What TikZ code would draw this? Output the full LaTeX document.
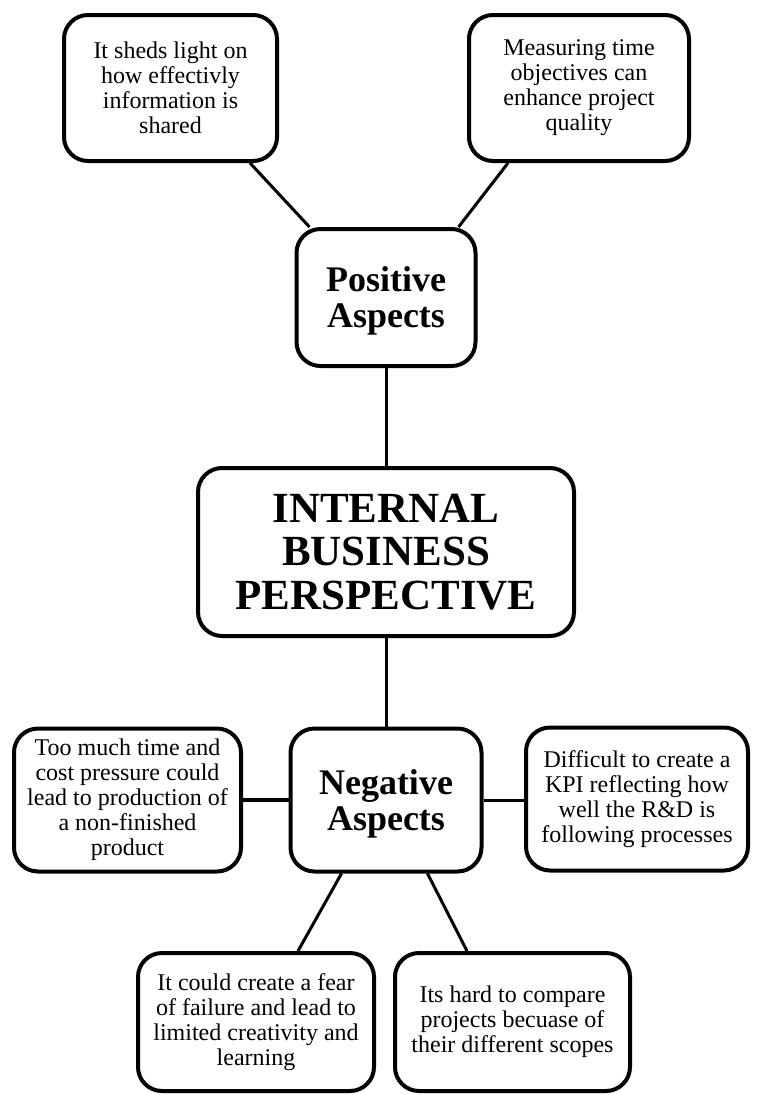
\documentclass[tikz,border=0pt]{standalone}
\usepackage{fontspec}
\setmainfont{Liberation Serif}
\begin{document}
\begin{tikzpicture}[x=1pt,y=-1pt,
  box/.style={draw=black,line width=4pt,rounded corners=24pt,fill=white,align=center,inner sep=0pt,
    font=\fontsize{24}{25}\selectfont},
  headbox/.style={box,font=\fontsize{36}{36}\selectfont\bfseries},
  centbox/.style={box,font=\fontsize{43}{43.5}\selectfont\bfseries},
  link/.style={draw=black,line width=3pt},
  hlink/.style={draw=black,line width=4.5pt}]
\useasboundingbox (0,0) rectangle (756,1095);
\fill[white] (0,0) rectangle (756,1095);

\node[box,minimum width=213pt,minimum height=146pt] (tl) at (170.5,88)
  {It sheds light on\\how effectivly\\information is\\shared};
\node[box,minimum width=220pt,minimum height=146pt] (tr) at (579,88)
  {Measuring time\\objectives can\\enhance project\\quality};
\node[headbox,minimum width=179pt,minimum height=137pt,text depth=-10pt] (pos) at (386,297.5)
  {Positive\\Aspects};
\node[centbox,minimum width=376pt,minimum height=168pt] (cen) at (386,552)
  {INTERNAL\\BUSINESS\\PERSPECTIVE};
\node[headbox,minimum width=191pt,minimum height=143pt,text depth=-4pt] (neg) at (386,800)
  {Negative\\Aspects};
\node[box,minimum width=227pt,minimum height=143pt] (left) at (127.5,800)
  {Too much time and\\cost pressure could\\lead to production of\\a non-finished\\product};
\node[box,minimum width=222pt,minimum height=143pt] (right) at (637,799)
  {Difficult to create a\\KPI reflecting how\\well the R\&D is\\following processes};
\node[box,minimum width=236pt,minimum height=138pt] (bl) at (256,1022)
  {It could create a fear\\of failure and lead to\\limited creativity and\\learning};
\node[box,minimum width=235pt,minimum height=138pt] (br) at (512.5,1022)
  {Its hard to compare\\projects becuase of\\their different scopes};

\draw[link] ([xshift=-29pt]tl.south east) -- ([xshift=15pt]pos.north west);
\draw[link] ([xshift=41pt]tr.south west) -- ([xshift=-19pt]pos.north east);
\draw[link] (pos.south) -- (cen.north);
\draw[link] (cen.south) -- (neg.north);
\draw[hlink] (left.east) -- (neg.west);
\draw[link] (neg.east) -- (right.west |- neg.east);
\draw[link] ([xshift=53pt]neg.south west) -- ([xshift=162pt]bl.north west);
\draw[link] ([xshift=139pt]neg.south west) -- ([xshift=74pt]br.north west);
\end{tikzpicture}
\end{document}
